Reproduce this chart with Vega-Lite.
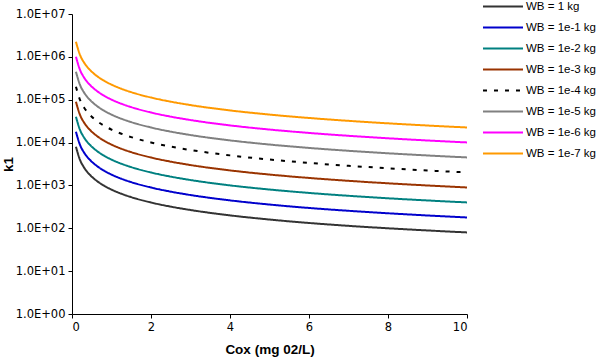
{
  "$schema": "https://vega.github.io/schema/vega-lite/v6.json",
  "width": 395,
  "height": 300,
  "autosize": {"type": "none"},
  "padding": {"left": 72, "top": 14, "right": 136, "bottom": 49},
  "background": "white",
  "config": {
    "view": {"stroke": null},
    "font": "Liberation Sans",
    "axis": {"grid": false, "domainColor": "black", "tickColor": "black", "labelColor": "black", "titleColor": "black", "labelFont": "DejaVu Sans", "titleFont": "Liberation Sans", "labelFontSize": 11.5, "titleFontSize": 13.5, "titleFontWeight": "bold", "tickSize": 4, "domainWidth": 1, "tickWidth": 1}
  },
  "data": {
    "values": [
      {"x": 0.1, "WB = 1 kg": 8000, "WB = 1e-1 kg": 17900, "WB = 1e-2 kg": 40100, "WB = 1e-3 kg": 89700, "WB = 1e-4 kg": 201000, "WB = 1e-5 kg": 450000, "WB = 1e-6 kg": 1007000, "WB = 1e-7 kg": 2250000},
      {"x": 0.2, "WB = 1 kg": 4000, "WB = 1e-1 kg": 8950, "WB = 1e-2 kg": 20050, "WB = 1e-3 kg": 44850, "WB = 1e-4 kg": 100500, "WB = 1e-5 kg": 225000, "WB = 1e-6 kg": 503500, "WB = 1e-7 kg": 1125000},
      {"x": 0.3, "WB = 1 kg": 2667, "WB = 1e-1 kg": 5967, "WB = 1e-2 kg": 13367, "WB = 1e-3 kg": 29900, "WB = 1e-4 kg": 67000, "WB = 1e-5 kg": 150000, "WB = 1e-6 kg": 335667, "WB = 1e-7 kg": 750000},
      {"x": 0.4, "WB = 1 kg": 2000, "WB = 1e-1 kg": 4475, "WB = 1e-2 kg": 10025, "WB = 1e-3 kg": 22425, "WB = 1e-4 kg": 50250, "WB = 1e-5 kg": 112500, "WB = 1e-6 kg": 251750, "WB = 1e-7 kg": 562500},
      {"x": 0.5, "WB = 1 kg": 1600, "WB = 1e-1 kg": 3580, "WB = 1e-2 kg": 8020, "WB = 1e-3 kg": 17940, "WB = 1e-4 kg": 40200, "WB = 1e-5 kg": 90000, "WB = 1e-6 kg": 201400, "WB = 1e-7 kg": 450000},
      {"x": 0.6, "WB = 1 kg": 1333, "WB = 1e-1 kg": 2983, "WB = 1e-2 kg": 6683, "WB = 1e-3 kg": 14950, "WB = 1e-4 kg": 33500, "WB = 1e-5 kg": 75000, "WB = 1e-6 kg": 167833, "WB = 1e-7 kg": 375000},
      {"x": 0.8, "WB = 1 kg": 1000, "WB = 1e-1 kg": 2238, "WB = 1e-2 kg": 5013, "WB = 1e-3 kg": 11213, "WB = 1e-4 kg": 25125, "WB = 1e-5 kg": 56250, "WB = 1e-6 kg": 125875, "WB = 1e-7 kg": 281250},
      {"x": 1, "WB = 1 kg": 800, "WB = 1e-1 kg": 1790, "WB = 1e-2 kg": 4010, "WB = 1e-3 kg": 8970, "WB = 1e-4 kg": 20100, "WB = 1e-5 kg": 45000, "WB = 1e-6 kg": 100700, "WB = 1e-7 kg": 225000},
      {"x": 1.25, "WB = 1 kg": 640, "WB = 1e-1 kg": 1432, "WB = 1e-2 kg": 3208, "WB = 1e-3 kg": 7176, "WB = 1e-4 kg": 16080, "WB = 1e-5 kg": 36000, "WB = 1e-6 kg": 80560, "WB = 1e-7 kg": 180000},
      {"x": 1.5, "WB = 1 kg": 533, "WB = 1e-1 kg": 1193, "WB = 1e-2 kg": 2673, "WB = 1e-3 kg": 5980, "WB = 1e-4 kg": 13400, "WB = 1e-5 kg": 30000, "WB = 1e-6 kg": 67133, "WB = 1e-7 kg": 150000},
      {"x": 2, "WB = 1 kg": 400, "WB = 1e-1 kg": 895, "WB = 1e-2 kg": 2005, "WB = 1e-3 kg": 4485, "WB = 1e-4 kg": 10050, "WB = 1e-5 kg": 22500, "WB = 1e-6 kg": 50350, "WB = 1e-7 kg": 112500},
      {"x": 2.5, "WB = 1 kg": 320, "WB = 1e-1 kg": 716, "WB = 1e-2 kg": 1604, "WB = 1e-3 kg": 3588, "WB = 1e-4 kg": 8040, "WB = 1e-5 kg": 18000, "WB = 1e-6 kg": 40280, "WB = 1e-7 kg": 90000},
      {"x": 3, "WB = 1 kg": 267, "WB = 1e-1 kg": 597, "WB = 1e-2 kg": 1337, "WB = 1e-3 kg": 2990, "WB = 1e-4 kg": 6700, "WB = 1e-5 kg": 15000, "WB = 1e-6 kg": 33567, "WB = 1e-7 kg": 75000},
      {"x": 4, "WB = 1 kg": 200, "WB = 1e-1 kg": 448, "WB = 1e-2 kg": 1003, "WB = 1e-3 kg": 2243, "WB = 1e-4 kg": 5025, "WB = 1e-5 kg": 11250, "WB = 1e-6 kg": 25175, "WB = 1e-7 kg": 56250},
      {"x": 5, "WB = 1 kg": 160, "WB = 1e-1 kg": 358, "WB = 1e-2 kg": 802, "WB = 1e-3 kg": 1794, "WB = 1e-4 kg": 4020, "WB = 1e-5 kg": 9000, "WB = 1e-6 kg": 20140, "WB = 1e-7 kg": 45000},
      {"x": 6, "WB = 1 kg": 133, "WB = 1e-1 kg": 298, "WB = 1e-2 kg": 668, "WB = 1e-3 kg": 1495, "WB = 1e-4 kg": 3350, "WB = 1e-5 kg": 7500, "WB = 1e-6 kg": 16783, "WB = 1e-7 kg": 37500},
      {"x": 7, "WB = 1 kg": 114, "WB = 1e-1 kg": 256, "WB = 1e-2 kg": 573, "WB = 1e-3 kg": 1281, "WB = 1e-4 kg": 2871, "WB = 1e-5 kg": 6429, "WB = 1e-6 kg": 14386, "WB = 1e-7 kg": 32143},
      {"x": 8, "WB = 1 kg": 100, "WB = 1e-1 kg": 224, "WB = 1e-2 kg": 501, "WB = 1e-3 kg": 1121, "WB = 1e-4 kg": 2513, "WB = 1e-5 kg": 5625, "WB = 1e-6 kg": 12588, "WB = 1e-7 kg": 28125},
      {"x": 9, "WB = 1 kg": 89, "WB = 1e-1 kg": 199, "WB = 1e-2 kg": 446, "WB = 1e-3 kg": 997, "WB = 1e-4 kg": 2233, "WB = 1e-5 kg": 5000, "WB = 1e-6 kg": 11189, "WB = 1e-7 kg": 25000},
      {"x": 10, "WB = 1 kg": 80, "WB = 1e-1 kg": 179, "WB = 1e-2 kg": 401, "WB = 1e-3 kg": 897, "WB = 1e-4 kg": 2010, "WB = 1e-5 kg": 4500, "WB = 1e-6 kg": 10070, "WB = 1e-7 kg": 22500}
    ]
  },
  "transform": [
    {"fold": ["WB = 1 kg", "WB = 1e-1 kg", "WB = 1e-2 kg", "WB = 1e-3 kg", "WB = 1e-4 kg", "WB = 1e-5 kg", "WB = 1e-6 kg", "WB = 1e-7 kg"], "as": ["series", "k1"]}
  ],
  "mark": {"type": "line", "strokeWidth": 2, "interpolate": "monotone"},
  "encoding": {
    "x": {"field": "x", "type": "quantitative", "title": "Cox (mg 02/L)", "scale": {"domain": [0, 10], "nice": false},
      "axis": {"values": [0, 2, 4, 6, 8, 10], "labelPadding": 3, "titlePadding": 10}},
    "y": {"field": "k1", "type": "quantitative", "title": "k1", "scale": {"type": "log", "domain": [1, 10000000], "nice": false},
      "axis": {"values": [1, 10, 100, 1000, 10000, 100000, 1000000, 10000000], "labelExpr": "'1.0E+0' + round(log(datum.value)/LN10)", "labelPadding": 3, "titleX": -57, "titleY": 150, "titleAngle": -90, "titleBaseline": "bottom", "titleAlign": "center"}},
    "color": {"field": "series", "type": "nominal",
      "scale": {"domain": ["WB = 1 kg", "WB = 1e-1 kg", "WB = 1e-2 kg", "WB = 1e-3 kg", "WB = 1e-4 kg", "WB = 1e-5 kg", "WB = 1e-6 kg", "WB = 1e-7 kg"],
        "range": ["#333333", "#0000CC", "#008080", "#993300", "#000000", "#808080", "#FF00FF", "#FF9900"]},
      "legend": {"title": null, "orient": "none", "legendX": 410, "legendY": -18, "symbolType": "stroke", "symbolSize": 1600, "symbolStrokeWidth": 2, "labelFontSize": 11.5, "labelColor": "black", "labelFont": "Liberation Sans", "rowPadding": 0, "clipHeight": 21, "labelOffset": 2}},
    "strokeDash": {"field": "series", "type": "nominal",
      "scale": {"domain": ["WB = 1 kg", "WB = 1e-1 kg", "WB = 1e-2 kg", "WB = 1e-3 kg", "WB = 1e-4 kg", "WB = 1e-5 kg", "WB = 1e-6 kg", "WB = 1e-7 kg"],
        "range": [[1, 0], [1, 0], [1, 0], [1, 0], [4, 7], [1, 0], [1, 0], [1, 0]]},
      "legend": {"title": null, "orient": "none", "legendX": 410, "legendY": -18, "symbolType": "stroke", "symbolSize": 1600, "symbolStrokeWidth": 2, "labelFontSize": 11.5, "labelColor": "black", "labelFont": "Liberation Sans", "rowPadding": 0, "clipHeight": 21, "labelOffset": 2}}
  }
}
